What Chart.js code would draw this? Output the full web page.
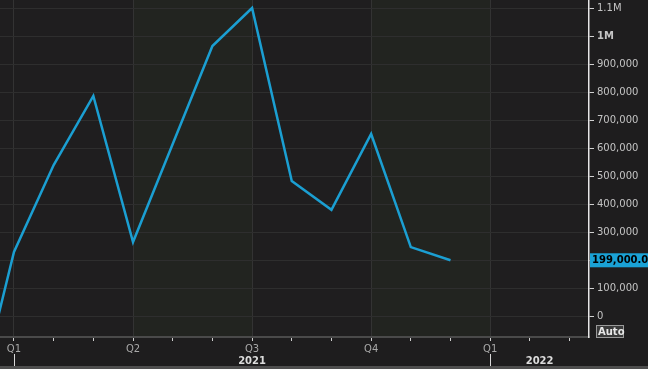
<!DOCTYPE html>
<html>
<head>
<meta charset="utf-8">
<script src="https://cdn.jsdelivr.net/npm/chart.js@4"></script>
<style>
  html, body { margin: 0; padding: 0; background: #1e1d1e; }
  #wrap { width: 648px; height: 369px; }
</style>
</head>
<body>
<div id="wrap"><canvas id="myChart" width="648" height="369"></canvas></div>
<script>
// months counted from Jan 2021 (= 0)
const months = [-1, 0, 1, 2, 3, 4, 5, 6, 7, 8, 9, 10, 11];
const payrolls = [-350000, 229000, 539000, 786000, 264000, 614000, 964000, 1100000, 482000, 379000, 650000, 246000, 199000];
const yTicks = [0, 100000, 200000, 300000, 400000, 500000, 600000, 700000, 800000, 900000, 1000000, 1100000];
const quarterLabels = ['Q1', 'Q2', 'Q3', 'Q4'];
const years = ['2021', '2022'];
const lastLabel = '199,000.00';

const xMin = -0.352, xMax = 14.49;
const lineColor = '#1b9fd2';

const ctx = document.getElementById('myChart').getContext('2d');

const decor = {
    id: 'decor',
    beforeDraw(chart) {
        const c = chart.ctx, a = chart.chartArea, x = chart.scales.x;
        c.save();
        c.fillStyle = '#1f1e1f';
        c.fillRect(a.left, a.top, a.right - a.left, a.bottom - a.top);
        // shaded quarters (Q2, Q4)
        c.fillStyle = '#222420';
        for (let q = 3; q < xMax; q += 6) {
            const l = Math.max(x.getPixelForValue(q), a.left);
            const r = Math.min(x.getPixelForValue(q + 3), a.right);
            if (r > l) c.fillRect(l, a.top, r - l, a.bottom - a.top);
        }
        c.restore();
    },
    afterDraw(chart) {
        const c = chart.ctx, a = chart.chartArea, x = chart.scales.x, y = chart.scales.y;
        c.save();
        // year labels + separators
        c.font = 'bold 10px "DejaVu Sans"';
        c.fillStyle = '#dcdcdc';
        c.textAlign = 'center';
        c.textBaseline = 'middle';
        years.forEach((yr, i) => {
            const start = i * 12;
            let mid = start + 6;
            let px = x.getPixelForValue(mid);
            if (px > a.right) px = (x.getPixelForValue(start) + a.right) / 2;
            c.fillText(yr, px, 361);
            const sx = x.getPixelForValue(start);
            if (sx >= a.left && sx <= a.right) {
                c.strokeStyle = '#d8d8d8';
                c.lineWidth = 1;
                c.beginPath();
                c.moveTo(Math.round(sx) + 0.5, 354);
                c.lineTo(Math.round(sx) + 0.5, 369);
                c.stroke();
            }
        });
        // bottom bar
        c.fillStyle = '#4e4e4e';
        c.fillRect(0, 366, 648, 3);
        // last value badge
        const last = payrolls[payrolls.length - 1];
        const py = y.getPixelForValue(last);
        c.fillStyle = '#1aa2d6';
        c.fillRect(a.right + 1, py - 7, 648 - a.right, 14);
        c.fillStyle = '#000';
        c.textAlign = 'left';
        c.font = 'bold 10px "DejaVu Sans"';
        c.fillText(lastLabel, a.right + 3, py + 0.5);
        // Auto box
        c.fillStyle = '#3a3a3a';
        c.fillRect(596, 325, 28, 13);
        c.strokeStyle = '#9a9a9a';
        c.strokeRect(596.5, 325.5, 27, 12);
        c.fillStyle = '#e8e8e8';
        c.fillText('Auto', 598, 332);
        c.restore();
    }
};

const chart = new Chart(ctx, {
    type: 'line',
    data: {
        datasets: [{
            data: months.map((m, i) => ({ x: m, y: payrolls[i] })),
            borderColor: lineColor,
            borderWidth: 2.5,
            pointRadius: 0,
            tension: 0,
            fill: false
        }]
    },
    options: {
        responsive: false,
        animation: false,
        layout: { padding: 0 },
        plugins: { legend: { display: false }, tooltip: { enabled: false } },
        scales: {
            x: {
                type: 'linear',
                min: xMin,
                max: xMax,
                afterBuildTicks: s => {
                    const t = [];
                    for (let m = 0; m <= xMax; m++) t.push({ value: m });
                    s.ticks = t;
                },
                afterFit: s => { s.height = 32; s.paddingLeft = 0; s.paddingRight = 0; },
                grid: {
                    color: c => (c.tick && c.tick.value % 3 === 0) ? '#333333' : 'rgba(0,0,0,0)',
                    tickColor: '#d0d0d0',
                    tickLength: 4,
                    lineWidth: 1
                },
                border: { color: '#4a4a4a', width: 2 },
                ticks: {
                    autoSkip: false,
                    maxRotation: 0,
                    padding: 2,
                    color: '#a8a8a8',
                    font: { family: 'DejaVu Sans', size: 10 },
                    callback: v => v % 3 === 0 ? quarterLabels[(((v % 12) + 12) % 12) / 3] : ''
                }
            },
            y: {
                position: 'right',
                min: -75000,
                max: 1128600,
                afterBuildTicks: s => { s.ticks = yTicks.map(v => ({ value: v })); },
                afterFit: s => { s.width = 59; s.paddingTop = 0; s.paddingBottom = 0; },
                grid: {
                    color: '#2e2e2e',
                    tickColor: '#d0d0d0',
                    tickLength: 5,
                    lineWidth: 1
                },
                border: { color: '#e6e6e6', width: 1.5 },
                ticks: {
                    padding: 3,
                    color: '#c4c4c4',
                    font: c => ({ family: 'DejaVu Sans', size: 10, weight: (c.tick && c.tick.value === 1000000) ? 'bold' : 'normal' }),
                    callback: v => {
                        if (v === 200000) return '';
                        if (v === 1100000) return '1.1M';
                        if (v === 1000000) return '1M';
                        return v.toLocaleString('en-US');
                    }
                }
            }
        }
    },
    plugins: [decor]
});
</script>
</body>
</html>
